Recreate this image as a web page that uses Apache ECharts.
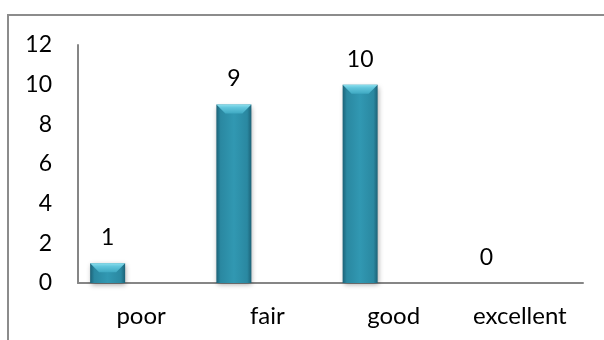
<!DOCTYPE html>
<html>
<head>
<meta charset="utf-8">
<script src="https://cdn.jsdelivr.net/npm/echarts@6/dist/echarts.min.js"></script>
<style>
  html, body { margin: 0; padding: 0; background: #ffffff; }
  #chart { width: 604px; height: 340px; }
</style>
</head>
<body>
<div id="chart"></div>
<script>
// Ratings and how many responses fell into each
const categories = ['poor', 'fair', 'good', 'excellent'];
const counts = [1, 9, 10, 0];
// Empty companion series (keeps the cluster slot to the right of each bar)
const spare = [null, null, null, null];
// Value axis ticks
const yMin = 0;
const yMax = 12;
const yStep = 2;

const FONT = 'Lato, "Open Sans", "Liberation Sans", sans-serif';
const BAR_W = 35;
const BAR_SHIFT = -33.5; // centre of the first bar in a two-bar cluster

const chart = echarts.init(document.getElementById('chart'), null, { renderer: 'canvas' });

const bodyFill = new echarts.graphic.LinearGradient(0, 0, 1, 0, [
  { offset: 0, color: '#1c6277' },
  { offset: 0.12, color: '#2a88a1' },
  { offset: 0.5, color: '#3198b2' },
  { offset: 0.88, color: '#2a88a1' },
  { offset: 1, color: '#1c6277' }
]);
const capFill = new echarts.graphic.LinearGradient(0, 0, 0, 1, [
  { offset: 0, color: '#8ee0ee' },
  { offset: 0.35, color: '#62c6dc' },
  { offset: 1, color: '#3fa9c2' }
]);

chart.setOption({
  animation: false,
  backgroundColor: '#ffffff',
  textStyle: { fontFamily: FONT },
  grid: { left: 78, right: 21, top: 45, bottom: 57, containLabel: false },
  graphic: [
    {
      type: 'polyline',
      shape: { points: [[8, 341], [8, 15], [605, 15]] },
      style: { stroke: '#8c8c8c', lineWidth: 2, fill: null },
      silent: true
    }
  ],
  xAxis: {
    type: 'category',
    data: categories,
    axisLine: { show: true, lineStyle: { color: '#868686', width: 2 } },
    axisTick: { show: false },
    axisLabel: { color: '#000000', fontSize: 24, fontFamily: FONT, margin: 21 },
    splitLine: { show: false }
  },
  yAxis: {
    type: 'value',
    min: yMin,
    max: yMax,
    interval: yStep,
    axisLine: { show: true, lineStyle: { color: '#868686', width: 2 } },
    axisTick: { show: false },
    axisLabel: { color: '#000000', fontSize: 23, fontFamily: FONT, margin: 26 },
    splitLine: { show: false }
  },
  series: [
    {
      name: 'count',
      type: 'bar',
      data: counts,
      barWidth: BAR_W,
      barGap: '91.4%',
      itemStyle: {
        color: bodyFill,
        shadowBlur: 5,
        shadowColor: 'rgba(0,0,0,0.35)',
        shadowOffsetX: 1,
        shadowOffsetY: 2
      },
      label: {
        show: true,
        position: 'top',
        distance: 14,
        color: '#000000',
        fontSize: 23,
        fontFamily: FONT
      },
      z: 2
    },
    {
      name: 'spare',
      type: 'bar',
      data: spare,
      barWidth: BAR_W,
      z: 2
    },
    {
      // bevelled top face of each bar
      name: 'cap',
      type: 'pictorialBar',
      data: counts.map(v => (v > 0 ? v : { value: v, symbol: 'none' })),
      symbol: 'path://M0,0 L35,0 L26,9 L9,9 Z',
      symbolSize: [BAR_W, 9],
      symbolPosition: 'end',
      symbolOffset: [BAR_SHIFT, 0],
      itemStyle: { color: capFill },
      silent: true,
      z: 3
    }
  ]
});
</script>
</body>
</html>
